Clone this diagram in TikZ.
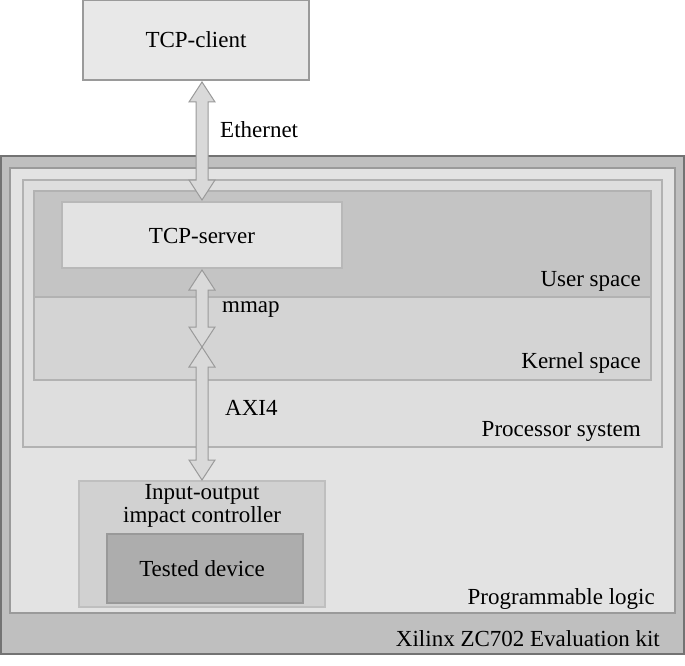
\documentclass[tikz,border=0pt]{standalone}
\usepackage{fontspec}
\setmainfont{Liberation Serif}
\usetikzlibrary{calc}
\definecolor{bd}{HTML}{9A9A9A}
\tikzset{x=1pt,y=-1pt,
 box/.style={draw=bd,line width=1.2pt},
 lbl/.style={font=\fontsize{23}{25}\selectfont,inner sep=0pt},
 arr/.style={fill=black!15,draw=bd,line width=1pt,line join=miter}}
\newcommand\fatarrow[2]{%
 \filldraw[arr] (#1) -- ($(#1)+(13,20)$) -- ($(#1)+(6,20)$) -- ($(#2)+(6,-20)$) -- ($(#2)+(13,-20)$) -- (#2) -- ($(#2)+(-13,-20)$) -- ($(#2)+(-6,-20)$) -- ($(#1)+(-6,20)$) -- ($(#1)+(-13,20)$) -- cycle;}
\begin{document}
\begin{tikzpicture}
\useasboundingbox (0,0) rectangle (685,666);
\fill[white] (0,0) rectangle (685,666);
\draw[box,fill=black!9] (83,0) rectangle (309,80);
\node[lbl] (client) at (196,40) {TCP-client};
\draw[box,fill=black!25,draw=black!55] (1,156) rectangle (684,654);
\draw[box,fill=black!11] (10,168) rectangle (675,613);
\draw[box,fill=black!13,draw=black!30] (23,180) rectangle (662,447);
\draw[box,fill=black!23,draw=black!30] (34,191) rectangle (651,297);
\draw[box,fill=black!17,draw=black!30] (34,297) rectangle (651,380);
\draw[box,fill=black!11,draw=black!28] (62,202) rectangle (342,268);
\node[lbl] (server) at (202,236) {TCP-server};
\draw[box,fill=black!18,draw=black!25] (79,481) rectangle (325,607);
\draw[box,fill=black!32,draw=black!40] (107,534) rectangle (303,603);
\node[lbl,align=center] (ioc) at (202,506) {Input-output\\[-2pt]impact controller};
\node[lbl] (dev) at (202,569) {Tested device};
\coordinate (e1) at (202,82);
\coordinate (e2) at (202,200);
\coordinate (m1) at (202,270);
\coordinate (m2) at (202,347);
\coordinate (a2) at (202,480);
\fatarrow{e1}{e2}
\fatarrow{m1}{m2}
\fatarrow{m2}{a2}
\node[lbl,anchor=west] (eth) at (220,130) {Ethernet};
\node[lbl,anchor=west] (mmap) at (222,310) {mmap};
\node[lbl,anchor=west] (axi) at (225,408) {AXI4};
\node[lbl,anchor=base east] (us) at (641,286) {User space};
\node[lbl,anchor=base east] (ks) at (641,368) {Kernel space};
\node[lbl,anchor=base east] (ps) at (641,436) {Processor system};
\node[lbl,anchor=base east] (pl) at (655,604) {Programmable logic};
\node[lbl,anchor=base east] (kit) at (660,646) {Xilinx ZC702 Evaluation kit};
\end{tikzpicture}
\end{document}
